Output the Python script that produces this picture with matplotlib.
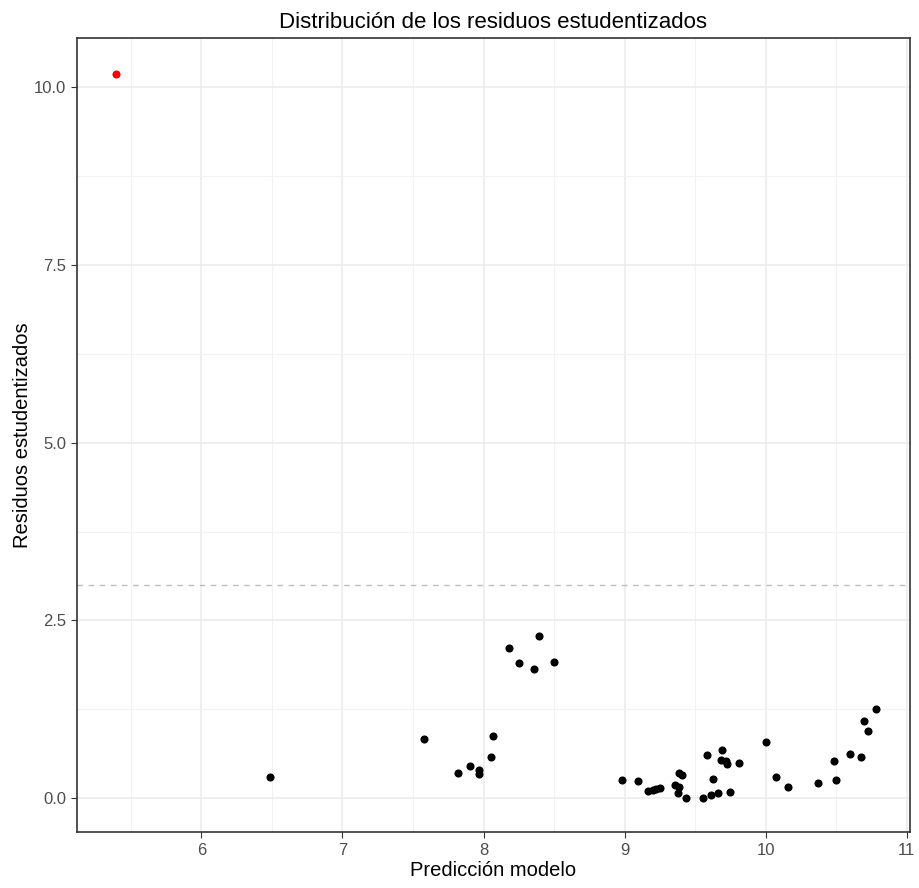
import numpy as np
import matplotlib.pyplot as plt
from matplotlib.ticker import MultipleLocator

plt.rcParams['font.family'] = ['Liberation Sans', 'DejaVu Sans']

# predicciones del modelo y residuos estudentizados
prediccion = [6.485, 7.577, 7.82, 7.907, 7.966, 7.966, 8.056, 8.065,
              8.18, 8.25, 8.36, 8.396, 8.50,
              8.978, 9.096, 9.169, 9.20, 9.226, 9.254, 9.358, 9.377, 9.386,
              9.389, 9.41, 9.438, 9.554, 9.582, 9.613, 9.625, 9.662, 9.68,
              9.69, 9.717, 9.724, 9.75, 9.81, 10.004, 10.07, 10.16, 10.372,
              10.483, 10.50, 10.597, 10.677, 10.696, 10.724, 10.783]
residuos = [0.295, 0.83, 0.35, 0.45, 0.39, 0.34, 0.58, 0.876,
            2.11, 1.90, 1.82, 2.28, 1.92,
            0.253, 0.235, 0.098, 0.112, 0.126, 0.14, 0.178, 0.075, 0.155,
            0.356, 0.32, 0.0, 0.0, 0.605, 0.042, 0.27, 0.066, 0.53,
            0.68, 0.525, 0.478, 0.084, 0.488, 0.79, 0.295, 0.155, 0.21,
            0.525, 0.253, 0.623, 0.58, 1.083, 0.947, 1.256]
# observacion atipica (residuo > 3)
pred_atipico = [5.395]
res_atipico = [10.18]
umbral = 3

fig = plt.figure(figsize=(9.19, 8.88), dpi=100)
ax = fig.add_axes([0.0838, 0.063, 0.906, 0.894])

ax.scatter(prediccion, residuos, s=34, color='black', zorder=3, linewidths=0)
ax.scatter(pred_atipico, res_atipico, s=34, color='red', zorder=3, linewidths=0)
ax.axhline(umbral, color='#bdbdbd', linestyle=(0, (4, 4)), linewidth=1, zorder=2)

ax.set_xlim(5.119, 11.02)
ax.set_ylim(-0.478, 10.69)
ax.xaxis.set_major_locator(MultipleLocator(1))
ax.xaxis.set_minor_locator(MultipleLocator(0.5))
ax.yaxis.set_major_locator(MultipleLocator(2.5))
ax.yaxis.set_minor_locator(MultipleLocator(1.25))
ax.yaxis.set_major_formatter(plt.FormatStrFormatter('%.1f'))

ax.grid(which='major', color='#ebebeb', linewidth=1.1, zorder=0)
ax.grid(which='minor', color='#f2f2f2', linewidth=0.8, zorder=0)
ax.set_axisbelow(True)
for s in ax.spines.values():
    s.set_color('#333333')
    s.set_linewidth(1.2)
ax.tick_params(which='minor', length=0)
ax.tick_params(which='major', length=4, color='#333333', labelcolor='#4d4d4d',
               labelsize=12, pad=4)

ax.set_title('Distribución de los residuos estudentizados', fontsize=16, pad=7)
ax.set_xlabel('Predicción modelo', fontsize=14.5, labelpad=2)
ax.set_ylabel('Residuos estudentizados', fontsize=14.5, labelpad=1)

fig.savefig('out.png', dpi=100)
